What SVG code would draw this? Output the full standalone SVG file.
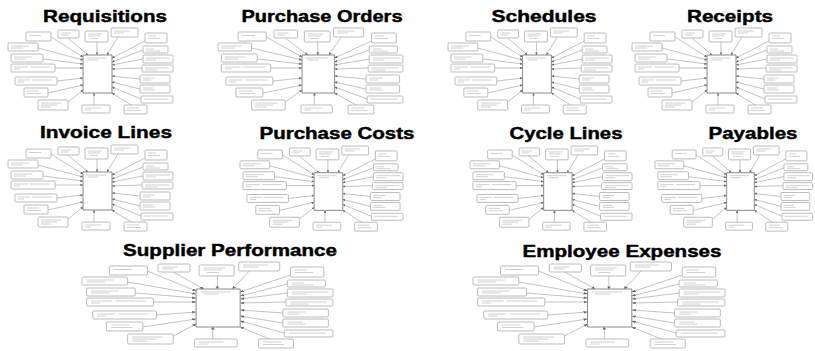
<svg xmlns="http://www.w3.org/2000/svg" xmlns:xlink="http://www.w3.org/1999/xlink" width="815" height="351" viewBox="0 0 815 351">
<style>
.title{font-family:"Liberation Sans",Arial,sans-serif;font-weight:bold;font-size:17px;fill:#000;stroke:#000;stroke-width:0.45;text-anchor:middle}
.bx{fill:#fff;stroke:#b4b4b4;stroke-width:0.9;vector-effect:non-scaling-stroke}
.cb{fill:#fff;stroke:#7a7a7a;stroke-width:0.9;vector-effect:non-scaling-stroke}
.sm{fill:none;stroke:#c4c4c4;stroke-width:0.8;vector-effect:non-scaling-stroke}
.cn line{stroke:#9a9a9a;stroke-width:0.6;vector-effect:non-scaling-stroke;marker-end:url(#ah)}
</style>
<defs>
<marker id="ah" viewBox="0 0 4 4" refX="4" refY="2" markerWidth="2.6" markerHeight="2.6" markerUnits="userSpaceOnUse" orient="auto"><path d="M0,0L4,2L0,4z" fill="#666"/></marker>
<g id="star">
<g class="cn">
<line x1="43" y1="9" x2="75" y2="29"/>
<line x1="60" y1="10" x2="80" y2="27"/>
<line x1="89" y1="14" x2="89" y2="27"/>
<line x1="110" y1="9" x2="99" y2="27"/>
<line x1="139" y1="12" x2="104" y2="30"/>
<line x1="30" y1="20" x2="75" y2="32"/>
<line x1="35" y1="31" x2="75" y2="36"/>
<line x1="47" y1="40" x2="75" y2="40"/>
<line x1="49" y1="53" x2="75" y2="50"/>
<line x1="40" y1="65" x2="75" y2="57"/>
<line x1="60" y1="74" x2="75" y2="62"/>
<line x1="86" y1="77" x2="86" y2="65"/>
<line x1="125" y1="78" x2="104" y2="65"/>
<line x1="135" y1="22" x2="104" y2="34"/>
<line x1="135" y1="31" x2="104" y2="37"/>
<line x1="134" y1="40" x2="104" y2="41"/>
<line x1="132" y1="51" x2="104" y2="48"/>
<line x1="132" y1="61" x2="104" y2="54"/>
<line x1="133" y1="71" x2="104" y2="59"/>
</g>
<rect class="cb" x="75" y="27" width="29" height="38"/>
<path class="sm" d="M78 30h20M80 32h10"/>
<rect class="bx" x="18" y="4" width="25" height="9" rx="1"/>
<rect class="bx" x="50" y="2" width="21" height="8" rx="1"/>
<rect class="bx" x="77" y="3" width="23" height="11" rx="1"/>
<rect class="bx" x="103" y="0" width="27" height="9" rx="1"/>
<rect class="bx" x="137" y="5" width="22" height="10" rx="1"/>
<rect class="bx" x="0" y="15" width="30" height="8" rx="1"/>
<rect class="bx" x="3" y="26" width="32" height="8" rx="1"/>
<rect class="bx" x="3" y="36" width="44" height="8" rx="1"/>
<rect class="bx" x="7" y="49" width="42" height="8" rx="1"/>
<rect class="bx" x="16" y="60" width="24" height="9" rx="1"/>
<rect class="bx" x="30" y="72" width="30" height="10" rx="1"/>
<rect class="bx" x="74" y="77" width="28" height="8" rx="1"/>
<rect class="bx" x="116" y="77" width="23" height="9" rx="1"/>
<rect class="bx" x="135" y="18" width="25" height="7" rx="1"/>
<rect class="bx" x="135" y="27" width="30" height="8" rx="1"/>
<rect class="bx" x="134" y="37" width="31" height="7" rx="1"/>
<rect class="bx" x="132" y="47" width="30" height="8" rx="1"/>
<rect class="bx" x="132" y="57" width="30" height="8" rx="1"/>
<rect class="bx" x="133" y="68" width="32" height="7" rx="1"/>
<path class="sm" d="M21 7.5h12M53 5h10M53 7h7M80 6h14M80 8h12M82 10.5h8M106 3h16M106 5h10M140 8h8M140 10.5h12M3 18h18M3 20h12M6 29h18M6 31h12M6 39h14M22 39h20M6 41h6M10 52h12M24 52h20M10 54h6M19 63h12M19 65.5h14M33 75h20M33 77h16M33 79h10M77 80h16M77 82h6M119 80h12M119 82.5h14M138 21h8M138 23h14M138 30h24M138 32h10M137 40h24M137 42h12M135 50h12M135 52h8M135 60h10M135 62h12M136 71h24"/>
</g>
</defs>
<rect x="0" y="0" width="815" height="351" fill="#fff"/>
<g id="requisitions">
<text class="title" x="105" y="22" textLength="124" lengthAdjust="spacingAndGlyphs">Requisitions</text>
<use xlink:href="#star" transform="translate(8,28)"/>
</g>
<g id="purchase-orders">
<text class="title" x="322" y="22" textLength="161" lengthAdjust="spacingAndGlyphs">Purchase Orders</text>
<use xlink:href="#star" transform="translate(218,28) scale(1.121,1)"/>
</g>
<g id="schedules">
<text class="title" x="544" y="22" textLength="105" lengthAdjust="spacingAndGlyphs">Schedules</text>
<use xlink:href="#star" transform="translate(448,28) scale(0.994,1)"/>
</g>
<g id="receipts">
<text class="title" x="730" y="22" textLength="86" lengthAdjust="spacingAndGlyphs">Receipts</text>
<use xlink:href="#star" transform="translate(632,28)"/>
</g>
<g id="invoice-lines">
<text class="title" x="106" y="138" textLength="132" lengthAdjust="spacingAndGlyphs">Invoice Lines</text>
<use xlink:href="#star" transform="translate(8,145)"/>
</g>
<g id="purchase-costs">
<text class="title" x="337" y="139" textLength="155" lengthAdjust="spacingAndGlyphs">Purchase Costs</text>
<use xlink:href="#star" transform="translate(240,146) scale(0.988,0.99)"/>
</g>
<g id="cycle-lines">
<text class="title" x="566" y="139" textLength="113" lengthAdjust="spacingAndGlyphs">Cycle Lines</text>
<use xlink:href="#star" transform="translate(470,146) scale(0.982,0.99)"/>
</g>
<g id="payables">
<text class="title" x="753" y="139" textLength="89" lengthAdjust="spacingAndGlyphs">Payables</text>
<use xlink:href="#star" transform="translate(655,146) scale(0.955,0.99)"/>
</g>
<g id="supplier-performance">
<text class="title" x="230" y="256" textLength="214" lengthAdjust="spacingAndGlyphs">Supplier Performance</text>
<use xlink:href="#star" transform="translate(82,262) scale(1.521,1)"/>
</g>
<g id="employee-expenses">
<text class="title" x="622" y="257" textLength="199" lengthAdjust="spacingAndGlyphs">Employee Expenses</text>
<use xlink:href="#star" transform="translate(473,262) scale(1.527,1)"/>
</g>
</svg>
